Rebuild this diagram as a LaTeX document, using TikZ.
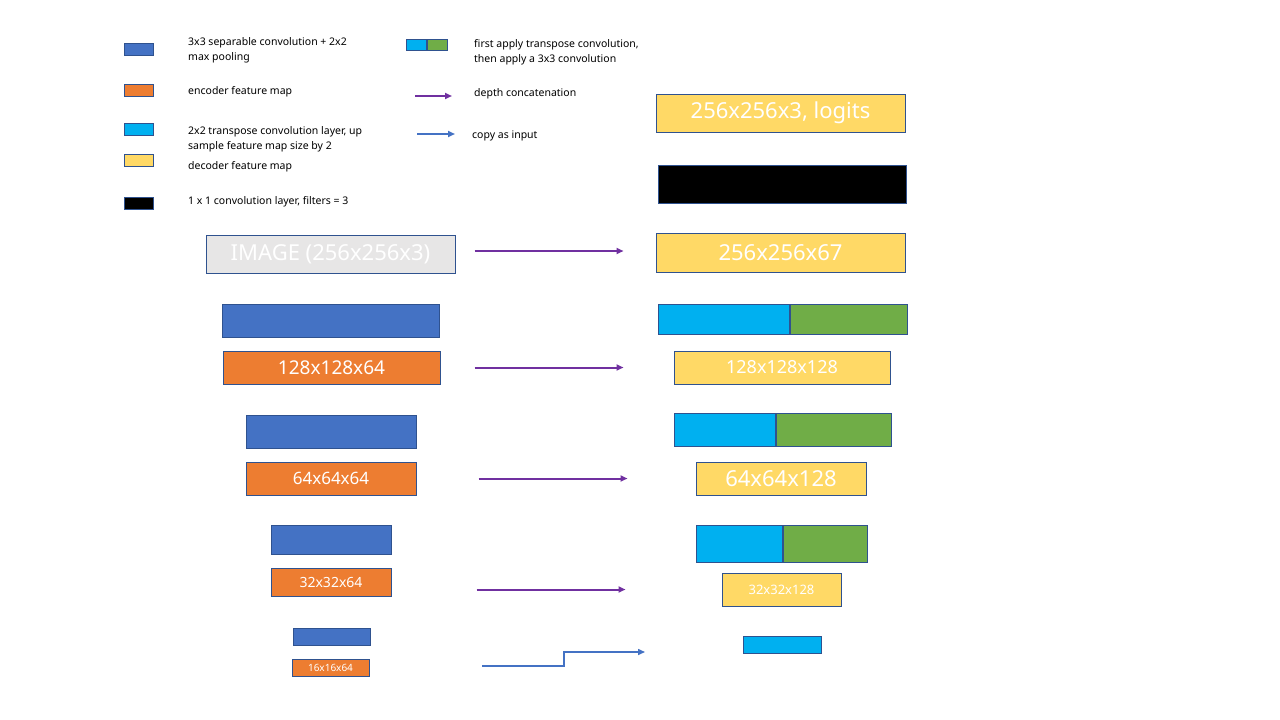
\documentclass[tikz,border=0pt]{standalone}
\usepackage{fontspec}
\setmainfont{Noto Sans}
\usetikzlibrary{positioning,arrows.meta}
\definecolor{convblue}{HTML}{4472C4}
\definecolor{encorange}{HTML}{ED7D31}
\definecolor{tconvcyan}{HTML}{00B0F0}
\definecolor{convgreen}{HTML}{70AD47}
\definecolor{decyellow}{HTML}{FFD966}
\definecolor{imggray}{HTML}{E7E6E6}
\definecolor{edgeblue}{HTML}{2F528F}
\definecolor{concatpurple}{HTML}{7030A0}
\tikzset{
  block/.style={draw=edgeblue, line width=1pt, inner sep=0pt, text=white},
  size/.style 2 args={minimum width=#1pt, minimum height=#2pt},
  pool/.style={block, fill=convblue},
  encmap/.style={block, fill=encorange},
  tconv/.style={block, fill=tconvcyan},
  conv3/.style={block, fill=convgreen},
  decmap/.style={block, fill=decyellow},
  outconv/.style={block, fill=black},
  inmap/.style={block, fill=imggray},
  legendtext/.style={anchor=west, align=left, inner sep=0pt,
    font=\fontsize{10.5}{15}\selectfont},
  concat/.style={-{Triangle[length=7pt,width=6pt]}, line width=2pt, draw=concatpurple},
  copyin/.style={-{Triangle[length=7pt,width=6pt]}, line width=2pt, draw=convblue}
}
\newcommand{\labsize}[1]{\fontsize{#1}{#1}\selectfont}

\begin{document}
\begin{tikzpicture}[x=1pt, y=-1pt]
  \useasboundingbox[fill=white] (0,0) rectangle (1280,720);

  % legend
  \node[pool, size={29}{12}] (lgpool) at (138.5,49) {};
  \node[encmap, size={29}{12}] (lgenc) at (138.5,90) {};
  \node[tconv, size={29}{12}] (lgtconv) at (138.5,129) {};
  \node[decmap, size={29}{12}] (lgdec) at (138.5,160) {};
  \node[outconv, size={29}{12}] (lgout) at (138.5,203) {};
  \node[legendtext] (txpool) at (188,50.5) {3x3 separable convolution + 2x2\\max pooling};
  \node[legendtext] (txenc) at (188,92) {encoder feature map};
  \node[legendtext] (txtconv) at (188,139) {2x2 transpose convolution layer, up\\sample feature map size by 2};
  \node[legendtext] (txdec) at (188,167) {decoder feature map};
  \node[legendtext] (txout) at (188,202) {1 x 1 convolution layer, filters = 3};

  \node[tconv, size={20}{11}] (lgupa) at (416,44.5) {};
  \node[conv3, size={20}{11}, anchor=west] (lgupb) at (lgupa.east) {};
  \node[legendtext] (txup) at (474,52) {first apply transpose convolution,\\then apply a 3x3 convolution};
  \coordinate (lgcat) at (415,96);
  \coordinate (lgcopy) at (417,134);
  \draw[concat] (lgcat) -- ++(37,0);
  \draw[copyin] (lgcopy) -- ++(38,0);
  \node[legendtext] (txcat) at (474,94) {depth concatenation};
  \node[legendtext] (txcopy) at (472,136) {copy as input};

  % encoder
  \node[inmap, size={249}{38}, font=\labsize{22}] (img) at (330.5,254) {IMAGE (256x256x3)};
  \node[pool, size={217}{33}] (pool128) at (330.5,320.5) {};
  \node[encmap, size={217}{33}, font=\labsize{19}] (enc128) at (331.5,367.5) {128x128x64};
  \node[pool, size={170}{33}] (pool64) at (331,431.5) {};
  \node[encmap, size={170}{33}, font=\labsize{17}] (enc64) at (331,478.5) {64x64x64};
  \node[pool, size={120}{29}] (pool32) at (331,539.5) {};
  \node[encmap, size={120}{28}, font=\labsize{14}] (enc32) at (331,582) {32x32x64};
  \node[pool, size={77}{17}] (pool16) at (331.5,636.5) {};
  \node[encmap, size={77}{17}, font=\labsize{10}] (enc16) at (330.5,667.5) {16x16x64};

  % decoder
  \node[decmap, size={249}{38}, font=\labsize{22}] (logits) at (780.5,113) {256x256x3, logits};
  \node[outconv, size={248}{38}] (final) at (782,184) {};
  \node[decmap, size={249}{39}, font=\labsize{22}] (dec256) at (780.5,252.5) {256x256x67};
  \node[tconv, size={131}{30}, anchor=west] (up128a) at (658,319) {};
  \node[conv3, size={117}{30}, anchor=west] (up128b) at (up128a.east) {};
  \node[decmap, size={216}{33}, font=\labsize{18}] (dec128) at (782,367.5) {128x128x128};
  \node[tconv, size={101}{33}, anchor=west] (up64a) at (674,429.5) {};
  \node[conv3, size={115}{33}, anchor=west] (up64b) at (up64a.east) {};
  \node[decmap, size={170}{33}, font=\labsize{22}] (dec64) at (781,478.5) {64x64x128};
  \node[tconv, size={86}{37}, anchor=west] (up32a) at (696,543.5) {};
  \node[conv3, size={84}{37}, anchor=west] (up32b) at (up32a.east) {};
  \node[decmap, size={119}{33}, font=\labsize{13}] (dec32) at (781.5,589.5) {32x32x128};
  \node[tconv, size={78}{17}] (up16) at (782,644.5) {};

  % skip connections
  \draw[concat, shorten <=19pt, shorten >=32pt] ([yshift=3pt]img.east) -- ([yshift=1.5pt]dec256.west);
  \draw[concat, shorten <=34pt, shorten >=50pt] (enc128.east) -- (dec128.west);
  \draw[concat, shorten <=62pt, shorten >=68pt] (enc64.east) -- (dec64.west);
  \draw[concat, shorten <=85pt, shorten >=96pt] ([yshift=-7.5pt]enc32.east) -- (dec32.west);
  \coordinate (copystart) at (482,666);
  \coordinate (copyend) at (645,652);
  \draw[copyin, line width=1.5pt] (copystart) -- (564,666) |- (copyend);
\end{tikzpicture}
\end{document}
